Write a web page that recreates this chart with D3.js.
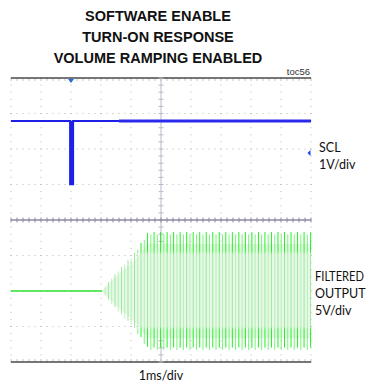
<!DOCTYPE html>
<html><head><meta charset="utf-8">
<script src="https://cdn.jsdelivr.net/npm/d3@7"></script>
<style>body{margin:0;background:#fff}svg{display:block}</style>
</head><body>
<svg id="c" width="369" height="385"></svg>
<script>
// ---- data (time in ms = divisions, levels in divisions) ----
const titleLines = ["SOFTWARE ENABLE", "TURN-ON RESPONSE", "VOLUME RAMPING ENABLED"];
const timeTicks = [-5,-4,-3,-2,-1,0,1,2,3,4,5];
const levelTicks = [-4,-3,-2,-1,0,1,2,3,4];
// SCL trace (ch1, 1V/div): time, level
const sclTime  = [-5, -3.03, -3.03, -2.93, -2.93, 5];
const sclLevel = [2.79, 2.79, 1.01, 1.01, 2.79, 2.79];
const sclNoisyStart = -1.4;
// Filtered output envelope (ch2, 5V/div)
const outCenter = -2.0;
const envTime = [-5, -1.97, -1.7, -1.27, -0.93, -0.6, -0.43, 5];
const envAmp  = [0, 0, 0.31, 0.73, 1.01, 1.44, 1.66, 1.66];
const carrierCyclesPerDiv = 9.2;
const triggerTime = -3.0;
const ch1Marker = 1.89;
const sclLabels = ["SCL", "1V/div"];
const outLabels = ["FILTERED", "OUTPUT", "5V/div"];
const timeLabel = "1ms/div";
const tocLabel = "toc56";

const svg = d3.select("#c");
const x = d3.scaleLinear().domain([-5,5]).range([11,311]);
const y = d3.scaleLinear().domain([-4,4]).range([362,78]);

// title
svg.append("g").selectAll("text").data(titleLines).join("text")
  .attr("x",158).attr("y",(d,i)=>21+i*21)
  .attr("text-anchor","middle")
  .attr("font-family","Liberation Sans, Arial, sans-serif")
  .attr("font-weight","bold").attr("font-size",14.5)
  .attr("fill","#111").text(d=>d);

// graticule dots
const g = svg.append("g");
const minor = d3.range(-5,5.001,0.2);
const minorY = d3.range(-4,4.001,0.2);
levelTicks.filter(v=>v!==0 && Math.abs(v)!==4).forEach(v=>{
  g.selectAll(null).data(minor).join("rect")
   .attr("x",d=>x(d)-0.5).attr("y",y(v)-0.5).attr("width",1).attr("height",1).attr("fill","#b5b5b5");
});
timeTicks.filter(v=>v!==0).forEach(v=>{
  g.selectAll(null).data(minorY).join("rect")
   .attr("x",x(v)-0.5).attr("y",d=>y(d)-0.5).attr("width",1).attr("height",1).attr("fill","#b5b5b5");
});
// top/bottom borders with ticks
g.selectAll(null).data(minor).join("line")
  .attr("x1",d=>x(d)).attr("x2",d=>x(d)).attr("y1",y(4)).attr("y2",y(4)+3)
  .attr("stroke","#c4c4c4").attr("stroke-width",1);
g.selectAll(null).data(minor).join("line")
  .attr("x1",d=>x(d)).attr("x2",d=>x(d)).attr("y1",y(-4)).attr("y2",y(-4)-3)
  .attr("stroke","#c4c4c4").attr("stroke-width",1);
g.append("line").attr("x1",x(-5)).attr("x2",x(5)).attr("y1",y(4)).attr("y2",y(4))
  .attr("stroke","#4a4a4a").attr("stroke-width",1.3);
g.append("line").attr("x1",x(-5)).attr("x2",x(5)).attr("y1",y(-4)).attr("y2",y(-4))
  .attr("stroke","#4a4a4a").attr("stroke-width",1.3);
// center cross
g.append("line").attr("x1",x(0)).attr("x2",x(0)).attr("y1",y(4)).attr("y2",y(-4))
  .attr("stroke","#b9b9c8").attr("stroke-width",1);
g.selectAll(null).data(minorY).join("line")
  .attr("x1",x(0)-2.5).attr("x2",x(0)+2.5).attr("y1",d=>y(d)).attr("y2",d=>y(d))
  .attr("stroke","#b9b9c8").attr("stroke-width",1);
g.append("line").attr("x1",x(-5)).attr("x2",x(5)).attr("y1",y(0)).attr("y2",y(0))
  .attr("stroke","#8a8aa2").attr("stroke-width",1.3);
g.selectAll(null).data(minor).join("line")
  .attr("x1",d=>x(d)).attr("x2",d=>x(d)).attr("y1",y(0)-2.5).attr("y2",y(0)+2.5)
  .attr("stroke","#8a8aa2").attr("stroke-width",1);

// toc label
svg.append("text").attr("x",x(5)-1).attr("y",y(4)-3).attr("text-anchor","end")
  .attr("font-family","Liberation Sans, Arial, sans-serif").attr("font-size",9.5)
  .attr("fill","#333").text(tocLabel);

// filtered output
const maxA = d3.max(envAmp);
const defs = svg.append("defs");
const gr = defs.append("linearGradient").attr("id","cg").attr("gradientUnits","userSpaceOnUse")
  .attr("x1",0).attr("x2",0).attr("y1",y(outCenter+maxA)).attr("y2",y(outCenter-maxA));
[[0,"#22f022"],[0.16,"#22f022"],[0.19,"#9ee89e"],[0.8,"#9ee89e"],[0.83,"#22f022"],[1,"#22f022"]]
  .forEach(([o,c])=>gr.append("stop").attr("offset",o).attr("stop-color",c));
const envY = d3.scaleLinear().domain(envTime).range(envAmp).clamp(true);
const env = d3.range(envTime[1], 5.0001, 0.02).map(t=>({t, a:envY(t)*0.8}));
svg.append("path").datum(env)
  .attr("d", d3.area().x(d=>x(d.t)).y0(d=>y(outCenter-d.a)).y1(d=>y(outCenter+d.a)))
  .attr("fill","#e6f9e6");
svg.append("line").attr("x1",x(-5)).attr("x2",x(envTime[1])).attr("y1",y(outCenter)).attr("y2",y(outCenter))
  .attr("stroke","#2ee02e").attr("stroke-width",1.3);
const cycles = d3.range(envTime[1], 5.0001, 1/carrierCyclesPerDiv);
svg.append("g").selectAll("line").data(cycles).join("line")
  .attr("x1",d=>x(d)).attr("x2",d=>x(d))
  .attr("y1",(d,i)=>y(outCenter+envY(d)*(i%2?0.96:1)))
  .attr("y2",(d,i)=>y(outCenter-envY(d)*(i%2?1:0.96)))
  .attr("stroke","url(#cg)").attr("stroke-width",1)
  .attr("opacity",(d,i)=>i%2?0.6:1);

// SCL trace
const scl = sclTime.map((t,i)=>({t,v:sclLevel[i]}));
svg.append("path").datum(scl)
  .attr("d", d3.line().x(d=>x(d.t)).y(d=>y(d.v)))
  .attr("fill","none").attr("stroke","#1f1fe6").attr("stroke-width",2);
svg.append("rect").attr("x",x(sclTime[1])).attr("y",y(sclLevel[0])).attr("width",x(sclTime[3])-x(sclTime[1]))
  .attr("height",y(sclLevel[2])-y(sclLevel[0])).attr("fill","#1f1fe6");
svg.append("line").attr("x1",x(sclNoisyStart)).attr("x2",x(5)).attr("y1",y(sclLevel[0])).attr("y2",y(sclLevel[0]))
  .attr("stroke","#2a2aee").attr("stroke-width",3);

// markers
svg.append("path").attr("transform",`translate(${x(triggerTime)},${y(4)+1})`)
  .attr("d","M-3,0L3,0L0,4Z").attr("fill","#2a6ae0");
svg.append("path").attr("transform",`translate(${x(5)-1},${y(ch1Marker)})`)
  .attr("d","M-2.5,0L0.5,-3L0.5,3Z").attr("fill","#2040e0");

// right labels
const lab = {"font-family":"Lato, Open Sans, sans-serif","font-size":12.5,"fill":"#111"};
const sl = svg.append("g").selectAll("text").data(sclLabels).join("text")
  .attr("x",319).attr("y",(d,i)=>152+i*17).text(d=>d);
const ol = svg.append("g").selectAll("text").data(outLabels).join("text")
  .attr("x",315).attr("y",(d,i)=>281+i*17).text(d=>d);
const tl = svg.append("text").attr("x",x(0)).attr("y",380).attr("text-anchor","middle").text(timeLabel);
[sl,ol,tl].forEach(s=>Object.entries(lab).forEach(([k,v])=>s.attr(k,v)));
ol.filter(d=>d==="FILTERED").attr("textLength",49).attr("lengthAdjust","spacingAndGlyphs");
</script>
</body></html>
